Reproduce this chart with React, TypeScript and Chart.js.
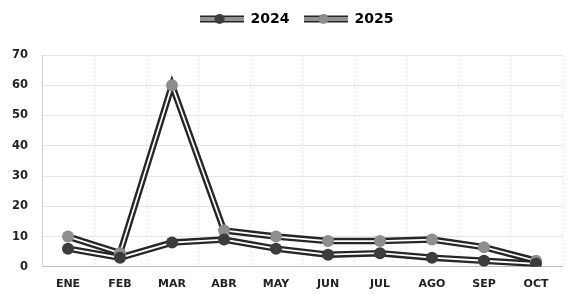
import React, { useEffect, useRef } from 'react';
import { Chart, registerables } from 'chart.js';
Chart.register(...registerables);

const months = ['ENE', 'FEB', 'MAR', 'ABR', 'MAY', 'JUN', 'JUL', 'AGO', 'SEP', 'OCT'];
const values2024 = [6, 3, 8, 9, 6, 4, 4.5, 3, 2, 1];
const values2025 = [10, 4.5, 60, 12, 10, 8.5, 8.5, 9, 6.5, 2];
const seriesLabels = ['2024', '2025'];
const pointColors = ['#3c3c3c', '#8e8e8e'];
const lineColor = '#262626';
const FONT = 'DejaVu Sans';

function legendImage(pointColor: string): HTMLCanvasElement {
  const c = document.createElement('canvas');
  c.width = 44;
  c.height = 12;
  const ctx = c.getContext('2d')!;
  ctx.fillStyle = lineColor;
  ctx.fillRect(0, 2.5, 44, 7);
  ctx.fillStyle = '#ffffff';
  ctx.fillRect(0, 4.5, 44, 1);
  ctx.fillRect(0, 6.5, 44, 1);
  ctx.beginPath();
  ctx.arc(20, 6, 5, 0, Math.PI * 2);
  ctx.fillStyle = pointColor;
  ctx.fill();
  return c;
}

const shiftLegend = {
  id: 'shiftLegend',
  afterLayout(chart: any) {
    const lg = chart.legend;
    if (!lg) return;
    lg.top -= 19;
    lg.bottom -= 19;
    lg.left += 15;
    lg.right += 15;
  },
};

export default function App() {
  const ref = useRef<HTMLCanvasElement>(null);
  useEffect(() => {
    const imgs = pointColors.map(legendImage);
    const series = [values2024, values2025];
    const datasets: any[] = [];
    series.forEach((vals, i) => {
      datasets.push({
        label: seriesLabels[i] + '-line',
        data: vals,
        borderColor: lineColor,
        borderWidth: 6.5,
        pointRadius: 0,
        tension: 0,
        order: 4,
      });
      datasets.push({
        label: seriesLabels[i] + '-core',
        data: vals,
        borderColor: '#ffffff',
        borderWidth: 1.8,
        pointRadius: 0,
        tension: 0,
        order: 3,
      });
    });
    series.forEach((vals, i) => {
      datasets.push({
        label: seriesLabels[i],
        data: vals,
        showLine: false,
        pointRadius: 6,
        pointBackgroundColor: pointColors[i],
        pointBorderColor: pointColors[i],
        pointBorderWidth: 0,
        order: 1,
      });
    });
    const chart = new Chart(ref.current!, {
      type: 'line',
      data: { labels: months, datasets },
      plugins: [shiftLegend],
      options: {
        animation: false,
        responsive: false,
        maintainAspectRatio: false,
        layout: { padding: { left: -2, right: 3, top: 17, bottom: -8 } },
        plugins: {
          tooltip: { enabled: false },
          legend: {
            position: 'top',
            labels: {
              usePointStyle: true,
              pointStyleWidth: 44,
              boxHeight: 12,
              padding: 14,
              color: '#222',
              font: { family: FONT, size: 14, weight: 'bold' },
              generateLabels: () =>
                seriesLabels.map((l, i) => ({
                  text: l,
                  pointStyle: imgs[i] as any,
                  fillStyle: pointColors[i],
                  strokeStyle: pointColors[i],
                  lineWidth: 0,
                  hidden: false,
                  datasetIndex: 4 + i,
                })),
            },
          },
        },
        scales: {
          x: {
            offset: true,
            grid: { color: '#e6e6e6', lineWidth: 1, offset: true, drawTicks: false },
            border: { color: '#bdbdbd', dash: [2, 2] },
            ticks: {
              color: '#222',
              padding: 11,
              font: { family: FONT, size: 11, weight: 'bold' },
            },
          },
          y: {
            min: 0,
            max: 70,
            grid: { color: '#e6e6e6', lineWidth: 1, drawTicks: false },
            border: { color: '#d0d0d0' },
            ticks: {
              stepSize: 10,
              color: '#222',
              padding: 14,
              font: { family: FONT, size: 11.5, weight: 'bold' },
            },
          },
        },
      },
    });
    return () => chart.destroy();
  }, []);
  return (
    <div style={{ position: 'fixed', left: 0, top: 0, width: 568, height: 294, background: '#fff' }}>
      <canvas ref={ref} width={568} height={294} style={{ width: 568, height: 294 }} />
    </div>
  );
}
